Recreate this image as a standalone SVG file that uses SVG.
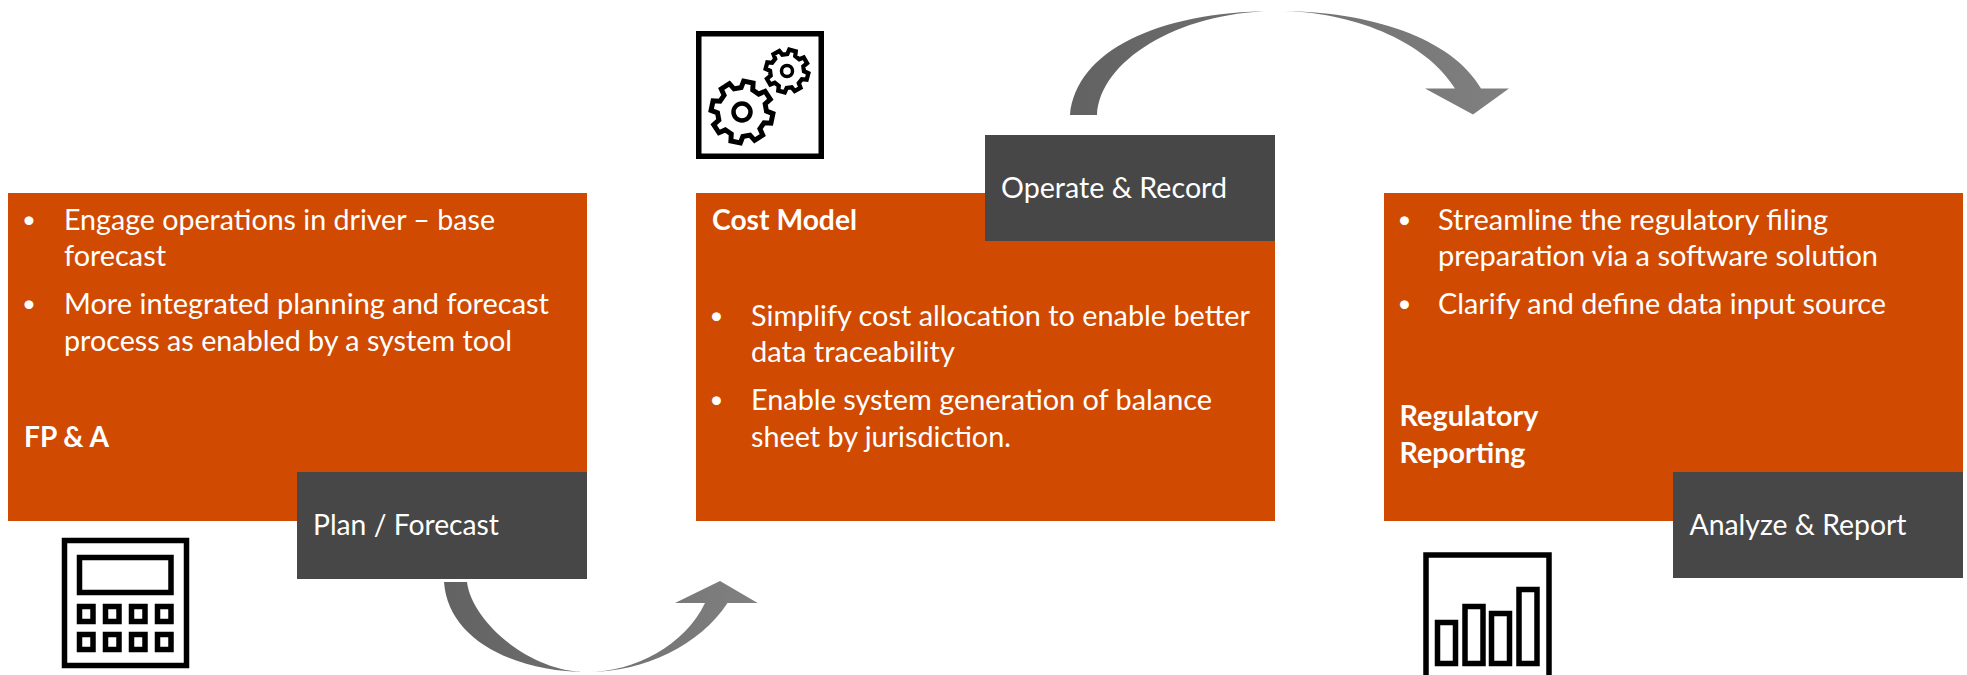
<svg xmlns="http://www.w3.org/2000/svg" width="1967" height="675" viewBox="0 0 1967 675">
<style>
text{font-family:"Lato","Open Sans","Liberation Sans",sans-serif;fill:#fff;font-size:28px}
.b{font-weight:700}
.d{font-size:24px;text-anchor:middle}
.box{fill:#d04a02}
.tab{fill:#474747}
.ic{fill:#fff;stroke:#000;stroke-width:5.500}
.gear{fill:#fff;stroke:#000;stroke-linejoin:miter}
</style>
<defs>
<linearGradient id="ga" x1="0" x2="1" y1="0" y2="0"><stop offset="0" stop-color="#626262"/><stop offset="1" stop-color="#808080"/></linearGradient>
<polygon id="gearShape" points="76.650,-19.110 98.770,-15.640 98.770,15.640 76.650,19.110 67.710,40.690 80.900,58.780 58.780,80.900 40.690,67.710 19.110,76.650 15.640,98.770 -15.640,98.770 -19.110,76.650 -40.690,67.710 -58.780,80.900 -80.900,58.780 -67.710,40.690 -76.650,19.110 -98.770,15.640 -98.770,-15.640 -76.650,-19.110 -67.710,-40.690 -80.900,-58.780 -58.780,-80.900 -40.690,-67.710 -19.110,-76.650 -15.640,-98.770 15.640,-98.770 19.110,-76.650 40.690,-67.710 58.780,-80.900 80.900,-58.780 67.710,-40.690"/>
</defs>
<g id="connectors">
<path fill="url(#ga)" d="M444 582C448 640 515 672 587 672C645 672 700 645 727.500 603H757.700L720 581L675 603H705C685 645 635 672 587 672C530 672 472 622 467 582Z"/>
<path fill="url(#ga)" d="M1070 115C1076 50 1160 11 1278 11C1370 11 1452 38 1481 88.500H1509L1473 114.500L1425 88.500H1455C1425 40 1350 11 1278 11C1180 11 1100 60 1097 115Z"/>
</g>
<g id="fpa">
<rect class="box" x="8" y="193" width="579" height="328"/>
<text class="d" x="29" y="228">•</text>
<text x="64" y="230" textLength="431" lengthAdjust="spacingAndGlyphs">Engage operations in driver – base</text>
<text x="64" y="266" textLength="102" lengthAdjust="spacingAndGlyphs">forecast</text>
<text class="d" x="29" y="312">•</text>
<text x="64" y="314" textLength="485" lengthAdjust="spacingAndGlyphs">More integrated planning and forecast</text>
<text x="64" y="351" textLength="448" lengthAdjust="spacingAndGlyphs">process as enabled by a system tool</text>
<text class="b" x="24" y="447" textLength="85" lengthAdjust="spacingAndGlyphs">FP &amp; A</text>
</g>
<g id="plan"><rect class="tab" x="297" y="472" width="290" height="107"/><text x="313" y="535" textLength="186" lengthAdjust="spacingAndGlyphs">Plan / Forecast</text></g>
<g id="calculator">
<rect class="ic" x="64.500" y="540.500" width="122" height="125"/>
<rect class="ic" x="79.500" y="557.500" width="91.500" height="35"/>
<g class="ic">
<rect x="79.500" y="606.500" width="13.500" height="15"/><rect x="105.500" y="606.500" width="13.500" height="15"/><rect x="131.500" y="606.500" width="13.500" height="15"/><rect x="157.500" y="606.500" width="13.500" height="15"/>
<rect x="79.500" y="634.500" width="13.500" height="15"/><rect x="105.500" y="634.500" width="13.500" height="15"/><rect x="131.500" y="634.500" width="13.500" height="15"/><rect x="157.500" y="634.500" width="13.500" height="15"/>
</g>
</g>
<g id="cost">
<rect class="box" x="696" y="193" width="579" height="328"/>
<text class="b" x="712" y="230" textLength="145" lengthAdjust="spacingAndGlyphs">Cost Model</text>
<text class="d" x="716.500" y="324">•</text>
<text x="751" y="326" textLength="499" lengthAdjust="spacingAndGlyphs">Simplify cost allocation to enable better</text>
<text x="751" y="362" textLength="204" lengthAdjust="spacingAndGlyphs">data traceability</text>
<text class="d" x="716.500" y="408">•</text>
<text x="751" y="410" textLength="461" lengthAdjust="spacingAndGlyphs">Enable system generation of balance</text>
<text x="751" y="447" textLength="260" lengthAdjust="spacingAndGlyphs">sheet by jurisdiction.</text>
</g>
<g id="operate"><rect class="tab" x="985" y="135" width="290" height="106"/><text x="1001" y="198" textLength="226" lengthAdjust="spacingAndGlyphs">Operate &amp; Record</text></g>
<g id="gears">
<rect class="ic" x="698.750" y="33.750" width="122.500" height="122.500"/>
<use href="#gearShape" class="gear" stroke-width="16" transform="translate(742 112) rotate(12) scale(.31)"/>
<circle cx="742" cy="112" r="8.500" fill="#fff" stroke="#000" stroke-width="4.500"/>
<use href="#gearShape" class="gear" stroke-width="20" transform="translate(787 71) rotate(15) scale(.215)"/>
<circle cx="787" cy="71" r="5.500" fill="#fff" stroke="#000" stroke-width="3.500"/>
</g>
<g id="reg">
<rect class="box" x="1384" y="193" width="579" height="328"/>
<text class="d" x="1404.500" y="228">•</text>
<text x="1438" y="230" textLength="390" lengthAdjust="spacingAndGlyphs">Streamline the regulatory filing</text>
<text x="1438" y="266" textLength="440" lengthAdjust="spacingAndGlyphs">preparation via a software solution</text>
<text class="d" x="1404.500" y="312">•</text>
<text x="1438" y="314" textLength="448" lengthAdjust="spacingAndGlyphs">Clarify and define data input source</text>
<text class="b" x="1399.500" y="426" textLength="139" lengthAdjust="spacingAndGlyphs">Regulatory</text>
<text class="b" x="1399.500" y="463" textLength="126" lengthAdjust="spacingAndGlyphs">Reporting</text>
</g>
<g id="analyze"><rect class="tab" x="1673" y="472" width="290" height="106"/><text x="1689.500" y="535" textLength="217" lengthAdjust="spacingAndGlyphs">Analyze &amp; Report</text></g>
<g id="chart">
<rect class="ic" x="1426" y="555" width="123" height="125"/>
<rect class="ic" x="1437.500" y="622.500" width="18" height="41"/>
<rect class="ic" x="1465" y="606.500" width="18" height="57"/>
<rect class="ic" x="1491.500" y="613.500" width="18" height="50"/>
<rect class="ic" x="1519" y="589.500" width="18" height="74"/>
</g>
</svg>
